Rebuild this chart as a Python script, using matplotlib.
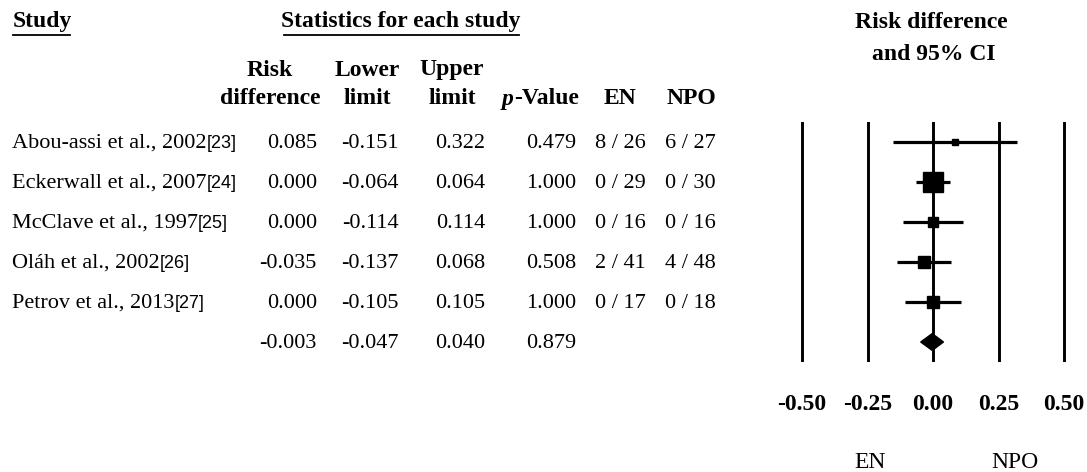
import matplotlib
matplotlib.use("Agg")
import matplotlib.pyplot as plt

plt.rcParams['font.family'] = ['Liberation Serif', 'DejaVu Serif']

# per-study data
studies = ["Abou-assi et al., 2002", "Eckerwall et al., 2007", "McClave et al., 1997",
           "Oláh et al., 2002", "Petrov et al., 2013"]
cites = ["[23]", "[24]", "[25]", "[26]", "[27]"]
rd = [0.085, 0.000, 0.000, -0.035, 0.000]
lower = [-0.151, -0.064, -0.114, -0.137, -0.105]
upper = [0.322, 0.064, 0.114, 0.068, 0.105]
pval = [0.479, 1.000, 1.000, 0.508, 1.000]
en_events = [8, 0, 0, 2, 0]
en_total = [26, 29, 16, 41, 17]
npo_events = [6, 0, 0, 4, 0]
npo_total = [27, 30, 16, 48, 18]

# pooled estimate
pool_rd, pool_lower, pool_upper, pool_p = -0.003, -0.047, 0.040, 0.879

ticks = [-0.50, -0.25, 0.00, 0.25, 0.50]

W, H = 1087, 472
fig = plt.figure(figsize=(W / 100, H / 100), dpi=100)

# background axes in pixel units for the table
bg = fig.add_axes([0, 0, 1, 1])
bg.set_xlim(0, W)
bg.set_ylim(H, 0)
bg.axis('off')

FS = 16    # table body
HFS = 17   # bold headers

def underline(x0, x1, y):
    bg.plot([x0, x1], [y, y], color='black', lw=1.3)

bg.text(13, 22, "Study", fontsize=HFS, fontweight='bold', ha='left', va='center')
underline(13, 70, 35)
bg.text(401, 22, "Statistics for each study", fontsize=HFS, fontweight='bold',
        ha='center', va='center')
underline(284, 519, 35)

# column headers
head_x = [270, 367, 452]
heads = [("Risk", "difference"), ("Lower", "limit"), ("Upper", "limit")]
for x, (h1, h2) in zip(head_x, heads):
    bg.text(x, 70, h1, fontsize=HFS, fontweight='bold', ha='center', va='center')
    bg.text(x, 98, h2, fontsize=HFS, fontweight='bold', ha='center', va='center')

p_txt = bg.text(502, 99, "p", fontsize=HFS, fontweight='bold', style='italic',
                ha='left', va='center')
bg.annotate("-Value", xy=(1, 0), xycoords=p_txt, fontsize=HFS, fontweight='bold',
            ha='left', va='bottom')
bg.text(620, 98, "EN", fontsize=HFS, fontweight='bold', ha='center', va='center')
bg.text(691, 98, "NPO", fontsize=HFS, fontweight='bold', ha='center', va='center')

# table rows
col_r = [317, 399, 485, 576]
row_y = [143 + 40 * i for i in range(6)]
for i in range(len(studies)):
    y = row_y[i]
    t = bg.text(12, y, studies[i], fontsize=FS, ha='left', va='center')
    bg.annotate(cites[i], xy=(1, 0.45), xycoords=t, fontsize=13,
                family='Liberation Sans', ha='left', va='center')
    for x, v in zip(col_r, [rd[i], lower[i], upper[i], pval[i]]):
        bg.text(x, y, f"{v:.3f}", fontsize=FS, ha='right', va='center')
    bg.text(646, y, f"{en_events[i]} / {en_total[i]}", fontsize=FS, ha='right', va='center')
    bg.text(716, y, f"{npo_events[i]} / {npo_total[i]}", fontsize=FS, ha='right', va='center')

y = row_y[5]
for x, v in zip(col_r, [pool_rd, pool_lower, pool_upper, pool_p]):
    bg.text(x, y, f"{v:.3f}", fontsize=FS, ha='right', va='center')

# forest plot
bg.text(931, 23, "Risk difference", fontsize=HFS, fontweight='bold', ha='center', va='center')
bg.text(934, 55, "and 95% CI", fontsize=HFS, fontweight='bold', ha='center', va='center')

ax = fig.add_axes([788.9 / W, 110 / H, 288.2 / W, 240 / H])
ax.patch.set_alpha(0)
ax.set_xlim(-0.55, 0.55)
ax.set_ylim(len(studies) + 1.5, 0.5)
for s in ax.spines.values():
    s.set_visible(False)
ax.set_yticks([])
ax.set_xticks(ticks)
ax.set_xticklabels([f"{t:.2f}" for t in ticks], fontsize=HFS, fontweight='bold')
ax.tick_params(axis='x', length=0, pad=23)

for t in ticks:
    ax.axvline(t, color='black', lw=2.1, zorder=1)

rows = list(range(1, len(studies) + 1))
for r, est, lo, hi in zip(rows, rd, lower, upper):
    ax.plot([lo, hi], [r, r], color='black', lw=2.3, solid_capstyle='butt', zorder=2)
    # square side proportional to 1/SE (sqrt of inverse-variance weight)
    se = (hi - lo) / 3.92
    ax.plot(est, r, marker='s', color='black', ms=max(0.46 / se, 4.5), zorder=3)

r = len(studies) + 1
h = 0.21
ax.fill([pool_lower, pool_rd, pool_upper, pool_rd], [r, r - h, r, r + h],
        color='black', zorder=3)

bg.text(870, 462, "EN", fontsize=HFS, ha='center', va='center')
bg.text(1015, 462, "NPO", fontsize=HFS, ha='center', va='center')

fig.savefig("out.png", dpi=100)
